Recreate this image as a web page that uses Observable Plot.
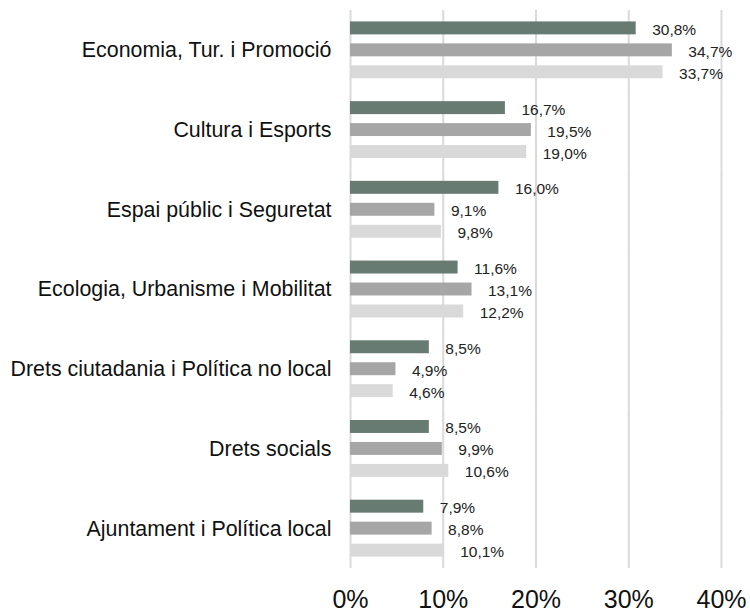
<!DOCTYPE html>
<html>
<head>
<meta charset="utf-8">
<script src="https://cdn.jsdelivr.net/npm/d3@7"></script>
<script src="https://cdn.jsdelivr.net/npm/@observablehq/plot@0.6"></script>
<style>
  html, body { margin: 0; padding: 0; background: #fff; }
</style>
</head>
<body>
<div id="chart"></div>
<script>
const categories = [
  "Economia, Tur. i Promoció",
  "Cultura i Esports",
  "Espai públic i Seguretat",
  "Ecologia, Urbanisme i Mobilitat",
  "Drets ciutadania i Política no local",
  "Drets socials",
  "Ajuntament i Política local"
];
const series = ["Sèrie 1", "Sèrie 2", "Sèrie 3"];
const serie1 = [30.8, 16.7, 16.0, 11.6, 8.5, 8.5, 7.9];
const serie2 = [34.7, 19.5, 9.1, 13.1, 4.9, 9.9, 8.8];
const serie3 = [33.7, 19.0, 9.8, 12.2, 4.6, 10.6, 10.1];
const xTicks = [0, 10, 20, 30, 40];
const colors = ["#677b73", "#a6a6a6", "#d9d9d9"];

const values = [serie1, serie2, serie3];
const data = [];
categories.forEach((c, i) => {
  series.forEach((s, j) => {
    data.push({category: c, series: s, value: values[j][i]});
  });
});

const fmt = v => v.toFixed(1).replace(".", ",") + "%";

const chart = Plot.plot({
  width: 750,
  height: 612,
  marginLeft: 350,
  marginRight: 29,
  marginTop: 10,
  marginBottom: 44,
  style: {fontFamily: "'Liberation Sans', Arial, sans-serif", background: "#fff", color: "#000"},
  x: {domain: [0, 40]},
  y: {domain: series, paddingInner: 0.41, paddingOuter: 0.52, round: false, axis: null},
  fy: {domain: categories, padding: 0, round: false},
  color: {domain: series, range: colors},
  marks: [
    Plot.gridX({ticks: xTicks, stroke: "#d9d9d9", strokeOpacity: 1, strokeWidth: 2}),
    Plot.barX(data, {x: "value", y: "series", fy: "category", fill: "series"}),
    Plot.text(data, {
      x: "value", y: "series", fy: "category",
      text: d => fmt(d.value),
      dx: 16, dy: 1.5, textAnchor: "start",
      fontSize: 15.5, fill: "#222"
    }),
    Plot.axisFy({anchor: "left", tickSize: 0, tickPadding: 19, fontSize: 21.4, label: null, fill: "#111"}),
    Plot.axisX({ticks: xTicks, tickSize: 0, tickPadding: 22, fontSize: 25, label: null,
      tickFormat: d => d + "%", fill: "#111"})
  ]
});
document.getElementById("chart").appendChild(chart);
</script>
</body>
</html>
